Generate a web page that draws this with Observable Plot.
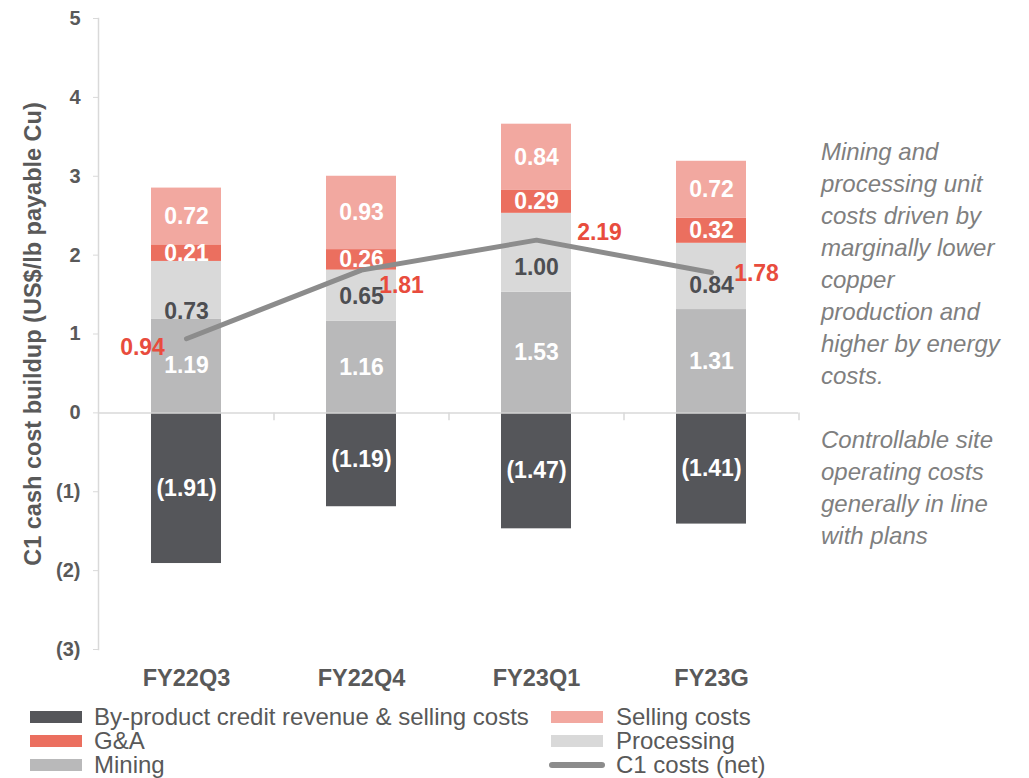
<!DOCTYPE html>
<html>
<head>
<meta charset="utf-8">
<script src="https://cdn.jsdelivr.net/npm/d3@7"></script>
<script src="https://cdn.jsdelivr.net/npm/@observablehq/plot@0.6"></script>
<style>
  body { margin: 0; background: #fff; font-family: "Liberation Sans", Arial, sans-serif; }
  #wrap { position: relative; width: 1029px; height: 778px; overflow: hidden; }
  #chart svg { display: block; }
  .note { position: absolute; left: 821px; top: 136px; font-style: italic; font-size: 24px; line-height: 32px; color: #7f7f7f; white-space: nowrap; }
  .lg { position: absolute; height: 24px; line-height: 24px; font-size: 24px; color: #595959; white-space: nowrap; }
  .sw { position: absolute; top: 6px; width: 52px; height: 12px; }
  .ln { position: absolute; top: 9px; width: 56px; height: 6px; border-radius: 3px; }
</style>
</head>
<body>
<div id="wrap">
  <div id="chart"></div>
  <div class="note" id="note"></div>
  <div id="legend"></div>
</div>
<script>
// ---- data ----
const categories = ["FY22Q3", "FY22Q4", "FY23Q1", "FY23G"];
const mining     = [1.19, 1.16, 1.53, 1.31];
const processing = [0.73, 0.65, 1.00, 0.84];
const gna        = [0.21, 0.26, 0.29, 0.32];
const selling    = [0.72, 0.93, 0.84, 0.72];
const byproduct  = [-1.91, -1.19, -1.47, -1.41];
const c1net      = [0.94, 1.81, 2.19, 1.78];
const yTicks     = [-3, -2, -1, 0, 1, 2, 3, 4, 5];
const yTitle     = "C1 cash cost buildup (US$/lb payable Cu)";
const noteLines  = ["Mining and", "processing unit", "costs driven by", "marginally lower", "copper", "production and", "higher by energy", "costs.", "", "Controllable site", "operating costs", "generally in line", "with plans"];

// ---- styles ----
const seriesNames  = ["By-product credit revenue & selling costs", "Mining", "Processing", "G&A", "Selling costs"];
const seriesColors = ["#55565a", "#b9b9ba", "#d9d9d9", "#eb6f5f", "#f2a8a0"];
const seriesValues = [byproduct, mining, processing, gna, selling];
const labelColors  = ["#ffffff", "#ffffff", "#4d4e52", "#ffffff", "#ffffff"];
const procLabelDy  = [21, 1, 15, 9];
const c1LabelDx    = [-44, 40, 63, 45];
const c1LabelDy    = [9, 16, -8, 1];
const lineColor = "#8c8c8c";
const red = "#e84c3d";
const textGrey = "#595959";
const axisGrey = "#d9d9d9";
const labelSize = 23;

// ---- build tables ----
const rows = [];
const labels = [];
categories.forEach((cat, i) => {
  let pos = 0;
  seriesNames.forEach((s, k) => {
    const v = seriesValues[k][i];
    rows.push({cat, series: s, value: v});
    let mid;
    if (v < 0) mid = v / 2;
    else { mid = pos + v / 2; pos += v; }
    labels.push({cat, series: s, k, i, y: mid,
      text: v < 0 ? `(${(-v).toFixed(2)})` : v.toFixed(2)});
  });
});
const lineData = categories.map((cat, i) => ({cat, value: c1net[i], i}));

const fmtTick = d => d < 0 ? `(${-d})` : `${d}`;

const labelMarks = [];
seriesNames.forEach((s, k) => {
  if (s === "Processing") {
    categories.forEach((c, i) => {
      labelMarks.push(Plot.text(labels.filter(d => d.series === s && d.i === i), {
        x: "cat", y: "y", text: "text", fill: labelColors[k], fontSize: labelSize, fontWeight: "bold", dy: procLabelDy[i]
      }));
    });
  } else {
    labelMarks.push(Plot.text(labels.filter(d => d.series === s), {
      x: "cat", y: "y", text: "text", fill: labelColors[k], fontSize: labelSize, fontWeight: "bold"
    }));
  }
});
const c1Labels = lineData.map((d, i) => Plot.text([d], {
  x: "cat", y: "value", text: d => d.value.toFixed(2), fill: red, fontSize: labelSize, fontWeight: "bold",
  dx: c1LabelDx[i], dy: c1LabelDy[i]
}));

const chart = Plot.plot({
  width: 1029,
  height: 700,
  marginTop: 18,
  marginBottom: 51,
  marginLeft: 98,
  marginRight: 231,
  style: {fontFamily: '"Liberation Sans", Arial, sans-serif', background: "#fff"},
  x: {domain: categories, paddingInner: 0.6, paddingOuter: 0.3, label: null},
  y: {domain: [-3, 5], label: null},
  color: {domain: seriesNames, range: seriesColors},
  marks: [
    Plot.frame({anchor: "left", stroke: axisGrey, strokeWidth: 1.5}),
    Plot.barY(rows, {x: "cat", y: "value", fill: "series", z: "series", order: null}),
    Plot.ruleY([0], {stroke: axisGrey, strokeWidth: 1.5}),
    Plot.ruleX(categories, {x: d => d, dx: 87.5, y1: 0, y2: -0.1, stroke: axisGrey, strokeWidth: 1.5}),
    Plot.axisY({ticks: yTicks, tickFormat: fmtTick, tickSize: 5, tickPadding: 13, stroke: axisGrey, fill: textGrey, fontSize: 20, fontWeight: "bold", label: null}),
    Plot.axisX({tickSize: 0, tickPadding: 20, fill: textGrey, fontSize: 23.5, fontWeight: "bold", label: null}),
    Plot.text([yTitle], {frameAnchor: "left", textAnchor: "middle", rotate: -90, dx: -65, fontSize: 23.5, fontWeight: "bold", fill: textGrey}),
    ...labelMarks,
    Plot.line(lineData, {x: "cat", y: "value", stroke: lineColor, strokeWidth: 5, strokeLinecap: "round", strokeLinejoin: "round"}),
    ...c1Labels
  ]
});
document.getElementById("chart").appendChild(chart);

// ---- note ----
document.getElementById("note").innerHTML = noteLines.map(l => l === "" ? "&nbsp;" : l).join("<br>");

// ---- legend ----
const legendItems = [
  {name: seriesNames[0], color: seriesColors[0], type: "sw", col: 0, row: 0},
  {name: seriesNames[3], color: seriesColors[3], type: "sw", col: 0, row: 1},
  {name: seriesNames[1], color: seriesColors[1], type: "sw", col: 0, row: 2},
  {name: seriesNames[4], color: seriesColors[4], type: "sw", col: 1, row: 0},
  {name: seriesNames[2], color: seriesColors[2], type: "sw", col: 1, row: 1},
  {name: "C1 costs (net)", color: lineColor, type: "ln", col: 1, row: 2}
];
const colX = [30, 551];
const lg = document.getElementById("legend");
legendItems.forEach(it => {
  const div = document.createElement("div");
  div.className = "lg";
  div.style.left = colX[it.col] + "px";
  div.style.top = (705 + it.row * 24) + "px";
  div.style.paddingLeft = (it.col === 0 ? 64 : 65) + "px";
  const sw = document.createElement("span");
  sw.className = it.type;
  sw.style.background = it.color;
  sw.style.left = (it.type === "ln" ? -2 : 0) + "px";
  div.appendChild(sw);
  div.appendChild(document.createTextNode(it.name));
  lg.appendChild(div);
});
</script>
</body>
</html>
